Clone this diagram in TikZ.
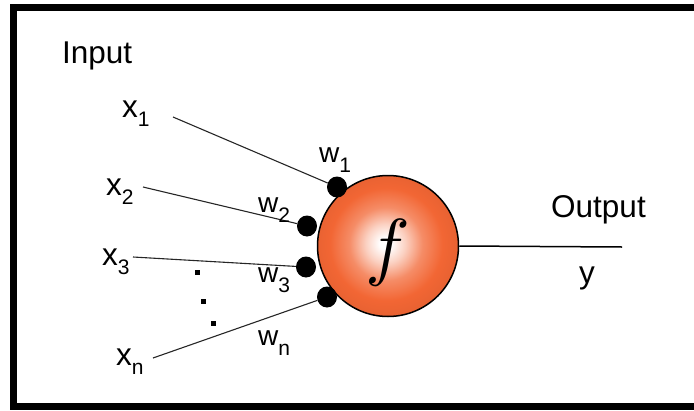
\documentclass[tikz,border=0pt]{standalone}
\usepackage{fontspec}
\setmainfont{Liberation Sans}
\usepackage{graphicx}
\usetikzlibrary{shapes.geometric}
\definecolor{myorange}{RGB}{242,102,52}
\pgfdeclareradialshading{neuron}{\pgfpoint{-1bp}{1bp}}{color(0bp)=(white); color(2bp)=(white); color(7bp)=(myorange!30!white); color(13bp)=(myorange!75!white); color(20bp)=(myorange); color(25bp)=(myorange!96!black); color(50bp)=(myorange!96!black)}
\newcommand\mysub[1]{\raisebox{-9pt}{\fontsize{21}{21}\selectfont #1}}
\newcommand\mywsub[1]{\raisebox{-10pt}{\fontsize{21}{21}\selectfont #1}}
\begin{document}
\begin{tikzpicture}[x=1pt,y=-1pt,
  lbl/.style={anchor=base west, inner sep=0pt, font=\fontsize{31.5}{31.5}\selectfont},
  wlbl/.style={anchor=base west, inner sep=0pt, font=\fontsize{28}{28}\selectfont},
  wdot/.style={ellipse, fill=black, inner sep=0pt, minimum width=20pt, minimum height=21pt},
  sdot/.style={rectangle, fill=black, inner sep=0pt, minimum size=5pt},
  wire/.style={line width=1.1pt, black!85},
  neuronstyle/.style={circle, draw=black, line width=1.5pt, minimum size=141pt, inner sep=0pt, shading=neuron},
  frame/.style={line width=7pt, line join=miter}]
\useasboundingbox (0,0) rectangle (694,410);
\draw[frame] (694,7) -- (13.5,7) -- (13.5,406.5) -- (694,406.5);

% neuron
\node[neuronstyle] (n) at (388,246) {};
\node[inner sep=0pt] (f) at (388,253) {\scalebox{7.5}{$f$}};

% weight dots
\node[wdot] (d1) at (337,187) {};
\node[wdot] (d2) at (307,226) {};
\node[wdot] (d3) at (306,267) {};
\node[wdot] (dn) at (327,297) {};

% input start points
\coordinate (s1) at (173,117);
\coordinate (s2) at (143,187);
\coordinate (s3) at (133,257);
\coordinate (sn) at (153,358);
\coordinate (out) at (622,247);

\draw[wire] (s1) -- (d1);
\draw[wire] (s2) -- (d2);
\draw[wire] (s3) -- (d3);
\draw[wire] (sn) -- (dn);
\draw[line width=1.5pt] (n.east) -- (out);

% labels
\node[lbl] (in) at (62,63) {Input};
\node[lbl] (x1) at (122,117) {x\mysub{1}};
\node[lbl] (x2) at (106,195) {x\mysub{2}};
\node[lbl] (x3) at (102,265) {x\mysub{3}};
\node[lbl] (xn) at (116,365) {x\mysub{n}};
\node[wlbl] (w1) at (319,162) {w\mywsub{1}};
\node[wlbl] (w2) at (258,212) {w\mywsub{2}};
\node[wlbl] (w3) at (258,282) {w\mywsub{3}};
\node[wlbl] (wn) at (258,345) {w\mywsub{n}};
\node[lbl] (outl) at (551,217) {Output};
\node[lbl] (y) at (579,283) {y};

% ellipsis dots
\node[sdot] (e1) at (197,272) {};
\node[sdot] (e2) at (203,301) {};
\node[sdot] (e3) at (213,323) {};
\end{tikzpicture}
\end{document}
